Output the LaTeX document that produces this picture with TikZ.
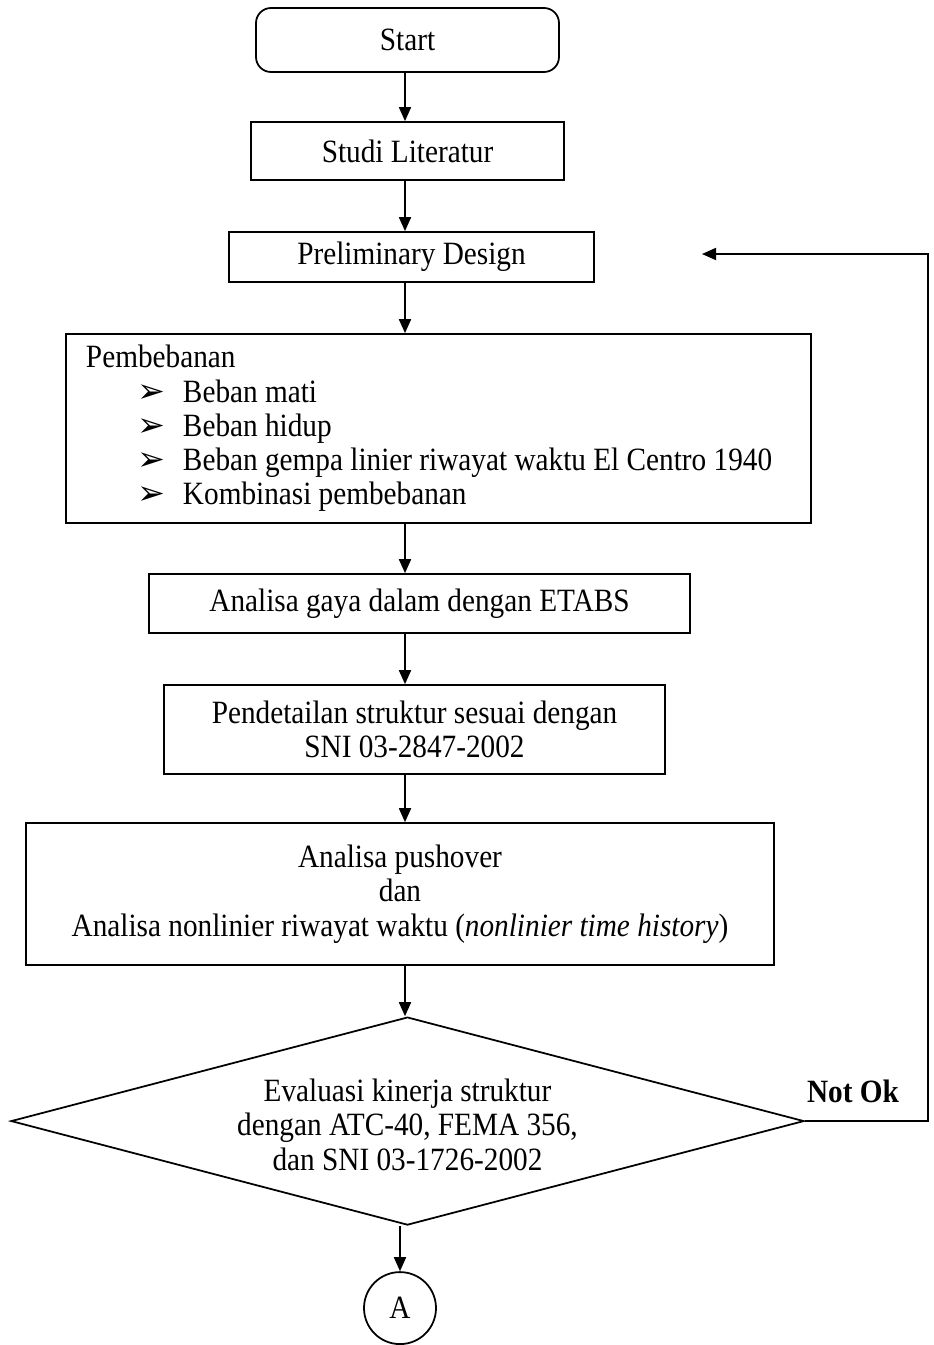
\documentclass[tikz,border=0pt]{standalone}
\usepackage{fontspec}
\setmainfont[FakeStretch=0.9]{Liberation Serif}
\newfontfamily\symfont{DejaVu Sans}
\usetikzlibrary{arrows.meta,positioning,shapes.geometric}
\tikzset{
  box/.style={rectangle,draw,line width=1pt,align=center,inner sep=2pt},
  rbox/.style={box,rounded corners=3mm},
  dbox/.style={diamond,draw,line width=1pt,align=center,inner sep=0pt,aspect=3.8},
  cnode/.style={circle,draw,line width=1pt,minimum size=14.4mm,inner sep=0pt},
  arr/.style={-{Triangle[length=2.8mm,width=2.4mm]},line width=1pt},
  lbl/.style={font=\bfseries\fontsize{18.5}{20}\selectfont,inner sep=1pt}
}
\newcommand{\itm}[1]{\hspace*{10.4mm}\makebox[9mm][l]{\symfont\fontsize{19}{19}\selectfont ➢}#1}

\begin{document}
\begin{tikzpicture}[x=0.2mm,y=0.2mm,every node/.append style={font=\fontsize{18.5}{19.5}\selectfont}]
\useasboundingbox (0,0) rectangle (934,-1345);
\coordinate (ax) at (405,0);
\coordinate (rgt) at (928,0);
\coordinate (fb) at (702,-254);
\node[rbox,minimum width=60.6mm,minimum height=12.8mm] (start) at (407.5,-40) {Start};
\node[box,minimum width=62.6mm,minimum height=11.6mm,below=9.65mm of start] (studi) {Studi Literatur};
\node[box,minimum width=73mm,minimum height=10mm,below=10.05mm of studi,xshift=0.8mm] (prelim) {Preliminary Design};
\node[box,align=flush left,text width=141mm,inner xsep=4mm,minimum height=37.8mm,below=10.05mm of prelim,xshift=5.4mm] (beban)
  {Pembebanan\\ \itm{Beban mati}\\ \itm{Beban hidup}\\ \itm{Beban gempa linier riwayat waktu El Centro 1940}\\ \itm{Kombinasi pembebanan}};
\node[box,minimum width=108.2mm,minimum height=11.8mm,below=9.85mm of beban,xshift=-3.8mm] (gaya) {Analisa gaya dalam dengan ETABS};
\node[box,minimum width=100.2mm,minimum height=17.8mm,below=10.05mm of gaya,xshift=-1mm] (pend) {Pendetailan struktur sesuai dengan\\SNI 03-2847-2002};
\node[box,minimum width=149.6mm,minimum height=28.4mm,below=9.45mm of pend,xshift=-2.9mm] (push)
  {Analisa pushover\\dan\\Analisa nonlinier riwayat waktu (\textit{nonlinier time history})};
\node[dbox,minimum width=158.6mm,minimum height=41.6mm,below=10.05mm of push,xshift=1.5mm] (eval)
  {\rule{0pt}{6mm}Evaluasi kinerja struktur\\dengan ATC-40, FEMA 356,\\dan SNI 03-1726-2002};
\node[cnode,below=9.05mm of eval,xshift=-1.5mm] (conA) {A};
\node[lbl,anchor=south west] (nok) at ([yshift=3.2mm]eval.east) {Not Ok};
\foreach \a/\b in {start/studi,studi/prelim,prelim/beban,beban/gaya,gaya/pend,pend/push,push/eval}
  \draw[arr] (\a.south -| ax) -- (\b.north -| ax);
\draw[arr] (eval.south -| conA) -- (conA);
\draw[arr] (eval.east) -| (rgt |- fb) -- (fb);
\end{tikzpicture}
\end{document}
